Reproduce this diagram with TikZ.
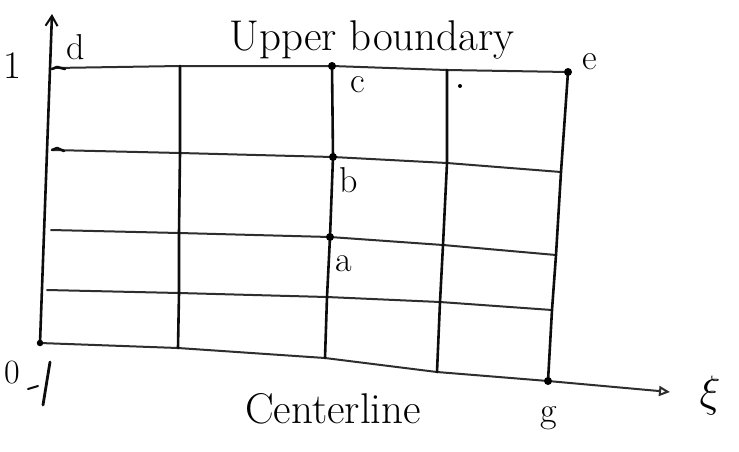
\RequirePackage{fix-cm}
\documentclass[tikz,border=0pt]{standalone}
\usetikzlibrary{arrows.meta}
\begin{document}
\begin{tikzpicture}[x=1pt,y=-1pt,
  hline/.style={draw=black!82,line width=2pt,line cap=round,line join=round},
  vline/.style={draw=black!95,line width=2.6pt,line cap=round,line join=round},
  gdot/.style={circle,fill=black,inner sep=0pt,minimum size=8pt},
  lbl/.style={inner sep=0pt,font=\fontsize{36}{40}\selectfont},
  big/.style={inner sep=0pt,font=\fontsize{43}{46}\selectfont}]
\useasboundingbox[fill=white] (0,0) rectangle (739,451);
% grid points: row r (0 bottom .. 4 top), column c (0 .. 4)
\coordinate (p40) at (54,68);  \coordinate (p41) at (180,66);  \coordinate (p42) at (332,66);  \coordinate (p43) at (447,70);  \coordinate (p44) at (568,72);
\coordinate (p30) at (53,150); \coordinate (p31) at (180,153); \coordinate (p32) at (333,157); \coordinate (p33) at (447,163); \coordinate (p34) at (561,172);
\coordinate (p20) at (51,230); \coordinate (p21) at (179,233); \coordinate (p22) at (330,237); \coordinate (p23) at (443,245); \coordinate (p24) at (556,255);
\coordinate (p10) at (47,290); \coordinate (p11) at (179,293); \coordinate (p12) at (327,297); \coordinate (p13) at (440,302); \coordinate (p14) at (552,310);
\coordinate (p00) at (40,343); \coordinate (p01) at (178,348); \coordinate (p02) at (325,358); \coordinate (p03) at (437,372); \coordinate (p04) at (548,381);
\coordinate (xiend) at (670,392);
\coordinate (etatop) at (52,14);
% eta axis
\draw[vline,-{Straight Barb[length=10pt,width=12pt,line width=2pt]}] (p00) -- (etatop);
% horizontal grid lines
\draw[hline] (p40) -- (p41) -- (p42) -- (p43) -- (p44);
\draw[hline] (p30) -- (p31) -- (p32) -- (p33) -- (p34);
\draw[hline] (p20) -- (p21) -- (p22) -- (p23) -- (p24);
\draw[hline] (p10) -- (p11) -- (p12) -- (p13) -- (p14);
\draw[hline,-{Triangle[open,length=11pt,width=10pt,line width=2pt]}] (p00) -- (p01) -- (p02) -- (p03) -- (p04) -- (xiend);
% vertical grid lines
\draw[vline] (p41) -- (p31) -- (p21) -- (p11) -- (p01);
\draw[vline] (p42) -- (p32) -- (p22) -- (p12) -- (p02);
\draw[vline] (p43) -- (p33) -- (p23) -- (p13) -- (p03);
\draw[vline] (p44) -- (p34) -- (p24) -- (p14) -- (p04);
% small hooks at left ends
\draw[vline] (p40) ++(-2,1) -- ++(5,-2) -- ++(8,2);
\draw[vline] (p30) ++(-1,0) -- ++(5,-2) -- ++(7,3);
% marked points
\node[gdot] (c) at (p42) {};
\node[gdot] (b) at (p32) {};
\node[gdot] (a) at (p22) {};
\node[gdot] (e) at (p44) {};
\node[gdot] (g) at (p04) {};
\node[gdot,minimum size=6.5pt] (o) at (p00) {};
\node[circle,fill=black,inner sep=0pt,minimum size=4pt] (stray) at (460,86) {};
% mark below the origin
\coordinate (m1) at (50,362);
\coordinate (m2) at (43,405);
\coordinate (m3) at (28,389);
\coordinate (m4) at (38,386);
\draw[vline,line width=2.8pt] (m1) -- (m2);
\draw[vline,line width=2pt] (m3) -- (m4);
% labels
\node[lbl,font=\fontsize{39}{42}\selectfont] (l1) at (12,66) {1};
\node[lbl,font=\fontsize{34}{36}\selectfont] (l0) at (12,373) {0};
\node[lbl] (ld) at (76,47) {d};
\node[big] (ub) at (372,40) {Upper boundary};
\node[lbl] (lc) at (358,85) {c};
\node[lbl] (le) at (590,62) {e};
\node[lbl] (lb) at (349,180) {b};
\node[lbl] (la) at (344,264) {a};
\node[big] (cl) at (333,409) {Centerline};
\node[lbl] (lg) at (549,418) {g};
\node[lbl,font=\fontsize{44}{46}\selectfont] (lxi) at (710,395) {$\xi$};
\end{tikzpicture}
\end{document}
